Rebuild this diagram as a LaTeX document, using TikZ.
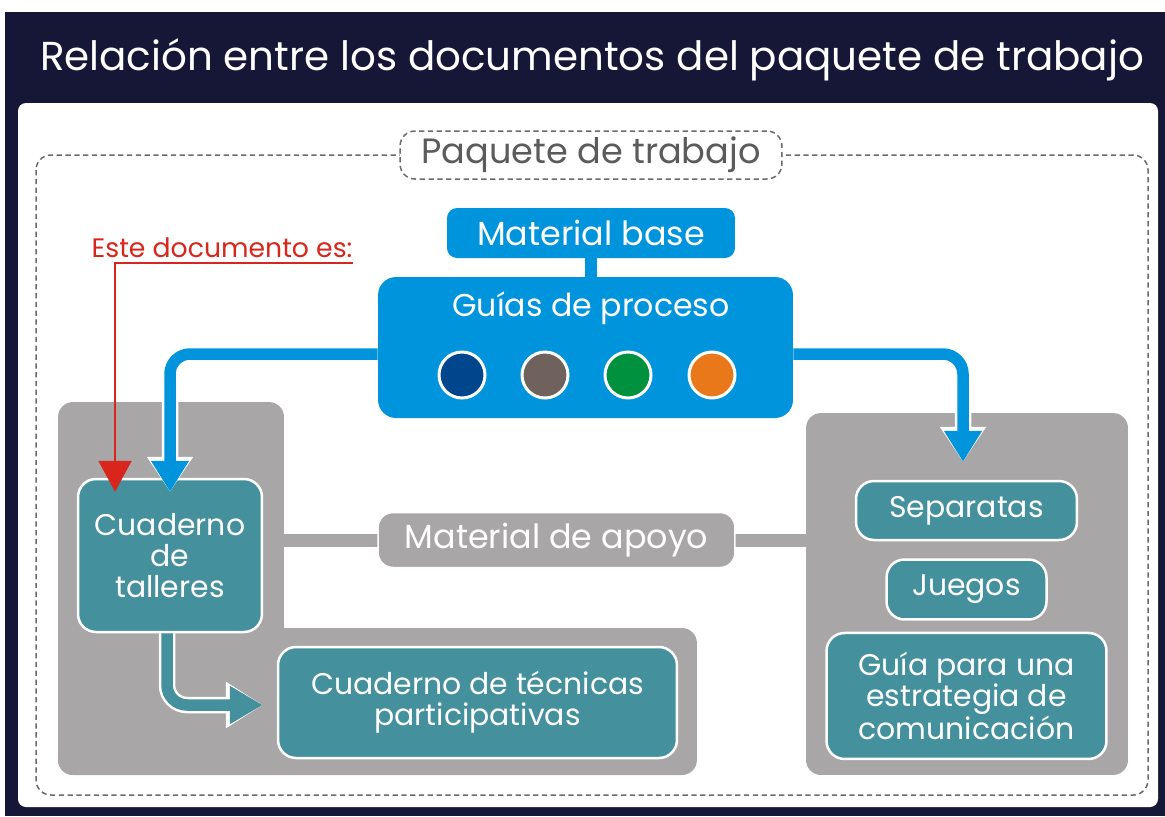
\documentclass[tikz,border=0pt]{standalone}
\usepackage{fontspec}
\setmainfont{Poppins}
\usetikzlibrary{positioning}
\usetikzlibrary{arrows.meta}
\usetikzlibrary{backgrounds}

\definecolor{navy}{HTML}{161737}
\definecolor{cblue}{HTML}{0094DC}
\definecolor{cteal}{HTML}{44909C}
\definecolor{cgray}{HTML}{A8A6A7}
\definecolor{cred}{HTML}{D9261C}
\definecolor{cframe}{HTML}{6B6B6B}
\definecolor{dotA}{HTML}{00468C}
\definecolor{dotB}{HTML}{6F625D}
\definecolor{dotC}{HTML}{00913E}
\definecolor{dotD}{HTML}{E8781A}

\tikzset{
	bluebox/.style={fill=cblue,text=white,rounded corners=0.2cm,font=\fontsize{19}{20}\selectfont},
	tealbox/.style={fill=cteal,draw=white,line width=0.05cm,rounded corners=0.36cm,text=white,align=center,font=\fontsize{17}{17.6}\selectfont},
	panel/.style={fill=cgray,rounded corners=0.3cm},
	dot/.style={circle,draw=white,line width=0.06cm,minimum size=0.92cm,inner sep=0pt},
	bluepipe/.style={cblue,line width=0.23cm,rounded corners=0.4cm,-{Triangle[length=0.62cm,width=0.72cm]},
		preaction={draw=white,line width=0.33cm,-{Triangle[length=0.7cm,width=0.88cm]}}},
	tealpipe/.style={cteal,line width=0.23cm,rounded corners=0.4cm,-{Triangle[length=0.66cm,width=0.72cm]},
		preaction={draw=white,line width=0.33cm,-{Triangle[length=0.74cm,width=0.88cm]}}}
}

\begin{document}
\begin{tikzpicture}[x=0.02cm,y=-0.02cm]
		\useasboundingbox (0,0) rectangle (1165,816);
		\fill[navy] (5,12) rectangle (1165,816);
		\fill[white,rounded corners=0.16cm] (18,103) rectangle (1158,807);
		\node[text=white,font=\fontsize{23}{25}\selectfont] (title) at (592,60) {Relación entre los documentos del paquete de trabajo};
		\draw[cframe,densely dashed,line width=0.03cm,rounded corners=0.3cm] (36,155) rectangle (1148,795);
		\node[fill=white,draw=cframe,densely dashed,line width=0.03cm,rounded corners=0.3cm,minimum width=7.64cm,minimum height=0.96cm,text=cframe!85!black,font=\fontsize{20}{21}\selectfont] (paquete) at (591,155) {Paquete de trabajo};
		% gray groups
		\node[panel,minimum width=4.52cm,minimum height=7.46cm] (leftpanel) at (171,588.5) {};
		\node[panel,minimum width=12.78cm,minimum height=2.94cm] (lowpanel) at (377.5,701.5) {};
		\node[panel,minimum width=6.44cm,minimum height=7.24cm] (rightpanel) at (967,594) {};
		\draw[cgray,line width=0.26cm] (leftpanel.east |- 0,540) -- (rightpanel.west |- 0,540);
		\node[fill=cgray,draw=white,line width=0.03cm,rounded corners=0.3cm,minimum width=7.14cm,minimum height=1.1cm,text=white,font=\fontsize{19}{20}\selectfont] (apoyo) at (556.5,540) {Material de apoyo};
		% base material
		\node[bluebox,minimum width=5.76cm,minimum height=1cm] (mbase) at (591,233) {Material base};
		\node[bluebox,rounded corners=0.36cm,minimum width=8.3cm,minimum height=2.82cm] (guias) at (585.5,347.5) {};
		\draw[cblue,line width=0.24cm] (mbase.south) -- (mbase.south |- guias.north);
		\node[text=white,font=\fontsize{18}{19}\selectfont] (gtitle) at (591,308) {Guías de proceso};
		\foreach \col/\x in {dotA/462,dotB/545,dotC/628,dotD/712}
			\node[dot,fill=\col] (\col) at (\x,375) {};
		% documents
		\node[tealbox,minimum width=3.68cm,minimum height=3.06cm] (taller) at (170,555.5) {Cuaderno\\de\\talleres};
		\node[tealbox,minimum width=7.98cm,minimum height=2.22cm] (tecnicas) at (477.5,702.5) {Cuaderno de técnicas\\participativas};
		\node[tealbox,minimum width=4.42cm,minimum height=1.18cm] (sepa) at (966.5,510.5) {Separatas};
		\node[tealbox,minimum width=3.2cm,minimum height=1.2cm,below=0.34cm of sepa] (juegos) {Juegos};
		\node[tealbox,minimum width=5.6cm,minimum height=2.52cm,below=0.22cm of juegos] (comu) {Guía para una\\estrategia de\\comunicación};
		% arrows
		\draw[bluepipe] ([yshift=-0.13cm]guias.west) -| ([yshift=-0.28cm]taller.north);
		\draw[bluepipe] ([yshift=-0.13cm]guias.east) -| ([xshift=-0.07cm,yshift=0.36cm]sepa.north);
		\draw[tealpipe] ([xshift=-0.06cm]taller.south) |- ([xshift=-0.28cm,yshift=-0.05cm]tecnicas.west);
		\node[text=cred,inner sep=0pt,font=\fontsize{15.2}{16}\selectfont] (este) at (222,248) {Este documento es:};
		\coordinate (ul) at ([yshift=-0.1cm]este.south east);
		\coordinate (redtip) at ([xshift=-1.1cm,yshift=-0.28cm]taller.north);
		\draw[cred,line width=0.04cm,-{Triangle[length=0.62cm,width=0.66cm]}] (ul) -| (redtip);
	\end{tikzpicture}
\end{document}
